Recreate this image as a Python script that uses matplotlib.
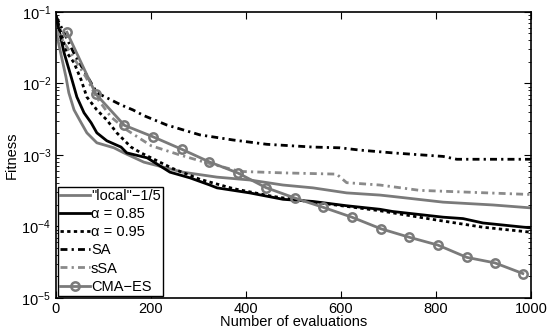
import numpy as np
import matplotlib
matplotlib.use('Agg')
import matplotlib.pyplot as plt
from matplotlib.ticker import LogLocator, NullFormatter

plt.rcParams['font.family'] = ['Liberation Sans', 'DejaVu Sans']
plt.rcParams['font.size'] = 10

# "local"-1/5
x_local = [0, 13, 21, 27, 38, 53, 65, 86, 122, 143, 185, 267, 339, 408, 478, 541, 612, 682, 709,
           815, 920, 1000]
y_local = [0.0537, 0.0214, 0.0123, 0.00741, 0.00427, 0.00282, 0.00204, 0.00148, 0.00126, 0.00107,
           0.000794, 0.000575, 0.00049, 0.000447, 0.00038, 0.000347, 0.000295, 0.000275, 0.000263,
           0.000219, 0.0002, 0.000182]

# alpha = 0.85
x_a85 = [0, 17, 32, 44, 59, 74, 86, 107, 137, 149, 192, 240, 282, 324, 339, 408, 478, 541, 612,
         682, 709, 815, 857, 899, 1000]
y_a85 = [0.0871, 0.0269, 0.0123, 0.00646, 0.00389, 0.00282, 0.00204, 0.00158, 0.00129, 0.00107,
         0.000912, 0.000575, 0.000479, 0.00038, 0.000347, 0.000295, 0.00024, 0.000224, 0.000195,
         0.000174, 0.000162, 0.000135, 0.000129, 0.000112, 0.0000955]

# alpha = 0.95
x_a95 = [0, 23, 38, 53, 65, 86, 107, 128, 158, 179, 246, 303, 373, 457, 541, 612, 682, 802, 899,
         1000]
y_a95 = [0.0871, 0.0269, 0.0195, 0.0112, 0.00646, 0.00427, 0.00309, 0.00204, 0.00129, 0.00107,
         0.000646, 0.000457, 0.000339, 0.000263, 0.000219, 0.000191, 0.000166, 0.000123,
         0.0000977, 0.0000832]

# SA
x_sa = [0, 38, 86, 137, 162, 185, 233, 303, 373, 444, 541, 598, 640, 709, 815, 844, 1000]
y_sa = [0.0871, 0.0263, 0.00741, 0.00501, 0.00427, 0.00355, 0.00263, 0.00191, 0.00162, 0.00141,
        0.00129, 0.00126, 0.00117, 0.00107, 0.000955, 0.000871, 0.000871]

# sSA
x_ssa = [0, 63, 86, 116, 149, 200, 261, 318, 387, 478, 591, 612, 682, 766, 1000]
y_ssa = [0.0562, 0.0123, 0.00631, 0.00339, 0.00224, 0.00135, 0.001, 0.000776, 0.000589, 0.000562,
         0.00054, 0.00041, 0.00038, 0.00032, 0.00028]

# CMA-ES
x_cma = [23, 84, 144, 204, 265, 323, 383, 442, 503, 562, 623, 684, 743, 804, 865, 924, 983]
y_cma = [0.052, 0.0071, 0.0026, 0.0018, 0.0012, 0.0008, 0.00056, 0.00035, 0.00025, 0.000186,
         0.000135, 9.3e-5, 7.1e-5, 5.5e-5, 3.7e-5, 3.1e-5, 2.2e-5]

gray = '#7a7a7a'

fig = plt.figure(figsize=(5.49, 3.32), dpi=100)
ax = fig.add_axes([0.102, 0.1024, 0.865, 0.8616])

ax.plot(x_local, y_local, color=gray, lw=2, label='"local"\u22121/5')
ax.plot(x_a85, y_a85, color='black', lw=2, label='\u03b1 = 0.85')
ax.plot(x_a95, y_a95, color='black', lw=2, ls=(0, (1.2, 1.2)), label='\u03b1 = 0.95')
ax.plot(x_sa, y_sa, color='black', lw=2, ls=(0, (2.5, 1.5, 0.8, 1.5)), label='SA')
ax.plot(x_ssa, y_ssa, color='#8a8a8a', lw=2, ls=(0, (2.5, 1.5, 0.8, 1.5)), label='sSA')
ax.plot(x_cma, y_cma, color=gray, lw=2, marker='o', ms=6, mfc='none', mew=1.8, label='CMA\u2212ES')

ax.set_yscale('log')
ax.set_xlim(0, 1000)
ax.set_ylim(1e-5, 1e-1)
ax.set_xticks([0, 200, 400, 600, 800, 1000])
ax.yaxis.set_minor_locator(LogLocator(base=10, subs=np.arange(2, 10)))
ax.yaxis.set_minor_formatter(NullFormatter())
ax.tick_params(which='both', direction='in', top=True, right=True, labelsize=10.5)
ax.tick_params(which='major', length=5, width=0.8)
ax.tick_params(which='minor', length=2.5, width=0.6)
ax.tick_params(axis='x', pad=3)
for s in ax.spines.values():
    s.set_linewidth(1.2)

ax.set_xlabel('Number of evaluations', fontsize=10.5, labelpad=-1)
ax.set_ylabel('Fitness', fontsize=10.5, labelpad=2)

leg = ax.legend(loc='lower left', fontsize=10.5, handlelength=2.0, handletextpad=0.1,
                labelspacing=0.28, borderpad=0.15, borderaxespad=0.15, fancybox=False,
                framealpha=1)
leg.get_frame().set_edgecolor('black')
leg.get_frame().set_linewidth(1.0)

fig.savefig('out.png', dpi=100)
